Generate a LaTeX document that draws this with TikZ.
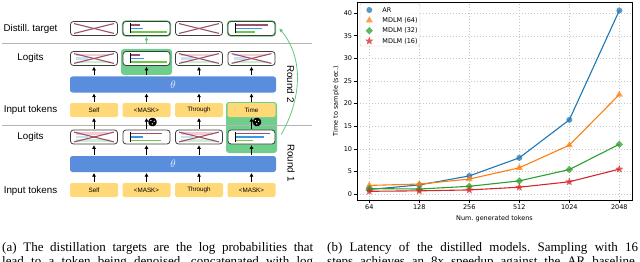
\documentclass[tikz,border=0pt]{standalone}
\usepackage{fontspec}
\setmainfont{Liberation Serif}
\setsansfont{Liberation Sans}
\newfontfamily\plotfont{DejaVu Sans}
\usetikzlibrary{arrows.meta,shapes.geometric,calc}
\frenchspacing

\definecolor{tokYellow}{RGB}{255,216,120}
\definecolor{thetaBlue}{RGB}{90,142,221}
\definecolor{pickGreen}{RGB}{112,206,140}
\definecolor{glowGreen}{RGB}{100,200,120}
\definecolor{boxGray}{RGB}{60,60,60}
\definecolor{crossRed}{RGB}{155,80,110}
\definecolor{barBlue}{RGB}{60,150,230}
\definecolor{barGreen}{RGB}{110,200,70}
\definecolor{fadePink}{RGB}{245,205,205}
\definecolor{fadeBlue}{RGB}{200,225,245}
\definecolor{fadeGreen}{RGB}{210,238,210}
\definecolor{sepGray}{RGB}{180,180,180}
\definecolor{arBlue}{RGB}{31,119,180}
\definecolor{mdOrange}{RGB}{255,127,14}
\definecolor{mdGreen}{RGB}{44,160,44}
\definecolor{mdRed}{RGB}{214,39,40}

% crossed out logits
\newcommand{\crossLogit}[1]{%
  \draw[crossline] ($(#1.north west)+(4,2.5)$) -- ($(#1.south east)+(-4,-2.5)$);
  \draw[crossline] ($(#1.south west)+(4,-2.5)$) -- ($(#1.north east)+(-4,2.5)$);}
% faint bars behind a cross
\newcommand{\fadeLogit}[1]{%
  \draw[line width=2.2pt, fadePink] ($(#1.west)+(6,-3.5)$) -- ++(32,0);
  \draw[line width=2.2pt, fadeBlue] ($(#1.west)+(6,0)$) -- ++(12,0);
  \draw[line width=2.2pt, fadeGreen] ($(#1.west)+(6,3.5)$) -- ++(34,0);}
% kept logits: red, blue, green bar lengths
\newcommand{\keepLogit}[4]{%
  \draw[line width=1.6pt, crossRed] ($(#1.west)+(8,-3.5)$) -- ++(#2,0);
  \draw[line width=1.6pt, barBlue] ($(#1.west)+(8,0)$) -- ++(#3,0);
  \draw[line width=1.6pt, barGreen] ($(#1.west)+(8,3.5)$) -- ++(#4,0);
  \draw[line width=1.1pt, black] ($(#1.west)+(8,-5)$) -- ++(0,10);}

\begin{document}
\begin{tikzpicture}[x=1pt, y=-1pt,
    rowlabel/.style={font=\sffamily\fontsize{9.8}{11}\selectfont},
    token/.style={fill=tokYellow, rounded corners=2pt, minimum width=48pt, minimum height=14pt, inner sep=0pt, font=\sffamily\fontsize{6.3}{7}\selectfont},
    logit/.style={draw=boxGray, line width=0.8pt, fill=white, rounded corners=3pt, minimum width=47pt, minimum height=14pt, inner sep=0pt},
    keep/.style={logit, preaction={draw=glowGreen, line width=2.4pt}},
    theta/.style={fill=thetaBlue, rounded corners=2.5pt, minimum width=206pt, minimum height=16pt, inner sep=0pt, text=white!85!thetaBlue, font=\fontsize{11}{12}\selectfont},
    pick/.style={fill=pickGreen, rounded corners=3pt, inner sep=0pt},
    crossline/.style={crossRed, line width=1.1pt},
    fwd/.style={-{Triangle[length=3.5pt,width=3.5pt]}, line width=0.9pt, shorten <=1pt, shorten >=1pt},
    pickarrow/.style={-{Triangle[length=3.5pt,width=3.5pt]}, glowGreen, line width=0.8pt},
    sepline/.style={sepGray, line width=0.8pt},
    die/.style={regular polygon, regular polygon sides=6, fill=black, minimum size=9.5pt, inner sep=0pt, rounded corners=1.2pt},
    roundlabel/.style={rotate=-90, font=\sffamily\fontsize{9.8}{11}\selectfont},
    caption/.style={inner sep=0pt, anchor=base west, font=\fontsize{13}{15}\selectfont},
    ticklabel/.style={inner sep=0.5pt, font=\plotfont\fontsize{6.5}{7.5}\selectfont},
    gridline/.style={black!22, line width=0.4pt, dash pattern=on 1.5pt off 1.5pt},
    frame/.style={black, line width=0.6pt},
    series/.style={line width=1.1pt},
    markAR/.style={circle, inner sep=0pt, minimum size=6pt, fill opacity=0.75},
    markTri/.style={regular polygon, regular polygon sides=3, inner sep=0pt, minimum size=8pt, fill opacity=0.75},
    markDia/.style={diamond, inner sep=0pt, minimum size=7.5pt, fill opacity=0.75},
    markStar/.style={star, star points=5, star point ratio=2.3, inner sep=0pt, minimum size=8.5pt, fill opacity=0.75},
    legendbox/.style={draw=black!20, fill=white, fill opacity=0.8, rounded corners=1.5pt, inner sep=0pt}]

  \useasboundingbox (0,0) rectangle (640,262);
  \clip (0,0) rectangle (640,262);

  % Column centres
  \def\colX{94}
  \def\colStep{52.5}

  % Picked tokens
  \node[pick, minimum width=51pt, minimum height=26pt] (pickTwo) at (146.5,62) {};
  \node[pick, minimum width=51pt, minimum height=51pt] (pickOne) at (251.5,127.5) {};

  % Separators
  \draw[sepline] (2,43) -- (312,43);
  \draw[sepline] (2,125) -- (312,125);

  % Row labels
  \node[rowlabel] (labDist) at (30.5,28.5) {Distill. target};
  \node[rowlabel] (labLogTwo) at (30.5,58) {Logits};
  \node[rowlabel] (labInTwo) at (30.5,110) {Input tokens};
  \node[rowlabel] (labLogOne) at (30.5,137) {Logits};
  \node[rowlabel] (labInOne) at (30.5,190.5) {Input tokens};

  % Distillation targets
  \foreach \c/\kind in {1/logit,2/keep,3/logit,4/keep}{
      \pgfmathsetmacro{\x}{\colX+\colStep*(\c-1)}
      \node[\kind] (D\c) at (\x,28.5) {};
    }
  \crossLogit{D1}
  \crossLogit{D3}
  \keepLogit{D2}{9}{12}{36}
  \keepLogit{D4}{32}{26}{19}

  % Round 2
  \foreach \c/\word in {1/Self,2/{<MASK>},3/Through,4/Time}{
      \pgfmathsetmacro{\x}{\colX+\colStep*(\c-1)}
      \node[logit] (L2\c) at (\x,58.5) {};
      \node[token] (I2\c) at (\x,110) {\word};
    }
  \node[theta] (thTwo) at (173,84.5) {$\theta$};
  \foreach \c in {1,3,4}{
      \fadeLogit{L2\c}
      \crossLogit{L2\c}
    }
  \keepLogit{L22}{9}{13}{36}

  % Round 1
  \foreach \c/\word in {1/Self,2/{<MASK>},3/Through,4/{<MASK>}}{
      \pgfmathsetmacro{\x}{\colX+\colStep*(\c-1)}
      \node[logit] (L1\c) at (\x,137) {};
      \node[token] (I1\c) at (\x,190) {\word};
    }
  \node[theta] (thOne) at (173,164) {$\theta$};
  \foreach \c in {1,3}{
      \fadeLogit{L1\c}
      \crossLogit{L1\c}
    }
  \keepLogit{L12}{31}{12}{30}
  \keepLogit{L14}{34}{28}{17}

  % Forward arrows
  \foreach \c in {1,...,4}{
      \draw[fwd] (thTwo.north -| L2\c.south) -- (L2\c.south);
      \draw[fwd] (I2\c.north) -- (I2\c.north |- thTwo.south);
      \draw[fwd] (L1\c.north) -- (I2\c.south);
      \draw[fwd] (thOne.north -| L1\c.south) -- (L1\c.south);
      \draw[fwd] (I1\c.north) -- (I1\c.north |- thOne.south);
    }

  % Sampling dice
  \node[die] (dieTwo) at (152.5,122) {};
  \node[die] (dieFour) at (257,122) {};
  \foreach \d in {dieTwo,dieFour}{
      \fill[white] ($(\d)+(-1.6,-1.4)$) circle[radius=0.7pt];
      \fill[white] ($(\d)+(1.7,-0.7)$) circle[radius=0.7pt];
      \fill[white] ($(\d)+(-0.2,1.8)$) circle[radius=0.7pt];
    }

  % Distillation arrows
  \draw[pickarrow, shorten <=7.5pt, shorten >=1pt] (L22.north) -- (D2.south);
  \draw[pickarrow] ([xshift=4pt,yshift=-7pt]pickOne.east) .. controls +(20,-35) and +(25,30) .. ([xshift=4pt]D4.east);

  % Rounds
  \node[roundlabel] (roundTwo) at (290.5,84) {Round 2};
  \node[roundlabel] (roundOne) at (291,163) {Round 1};

  % Latency plot
  \begin{scope}[shift={(369.3,194)}, x=50pt, y=4.52pt]
    \foreach \k in {0,...,5}
    \draw[gridline] (\k,-1.33) -- (\k,42.48);
    \foreach \v in {0,5,...,40}
    \draw[gridline] (-0.25,\v) -- (5.25,\v);
    \draw[frame] (-0.25,-1.33) rectangle (5.25,42.48);
    \foreach \k/\n in {0/64,1/128,2/256,3/512,4/1024,5/2048}{
        \draw[frame] (\k,-1.33) -- ++(0pt,-3pt);
        \node[ticklabel, anchor=north, yshift=-3.5pt] (xt\k) at (\k,-1.33) {\n};
      }
    \foreach \v in {0,5,...,40}{
        \draw[frame] (-0.25,\v) -- ++(-3pt,0pt);
        \node[ticklabel, anchor=east, xshift=-4pt] (yt\v) at (-0.25,\v) {\v};
      }
    \foreach \s/\col/\mk/\data in {ar/arBlue/markAR/{1.0,2.0,4.0,8.0,16.4,40.6},
        mA/mdOrange/markTri/{1.9,2.2,3.3,5.8,10.8,22.0},
        mB/mdGreen/markDia/{1.2,1.1,1.7,2.9,5.4,11.0},
        mC/mdRed/markStar/{0.6,0.7,0.9,1.5,2.7,5.5}}{
        \foreach \v [count=\k from 0] in \data {
            \coordinate (\s\k) at (\k,\v);
          }
        \draw[series, \col] (\s0) -- (\s1) -- (\s2) -- (\s3) -- (\s4) -- (\s5);
        \foreach \k in {0,...,5}
        \node[\mk, fill=\col] (mk\s\k) at (\s\k) {};
      }
  \end{scope}

  % Legend
  \node[legendbox, minimum width=60pt, minimum height=42.5pt] (legend) at (390,24.75) {};
  \foreach \i/\col/\mk/\txt in {0/arBlue/markAR/AR,1/mdOrange/markTri/MDLM (64),2/mdGreen/markDia/MDLM (32),3/mdRed/markStar/MDLM (16)}{
      \pgfmathsetmacro{\ly}{10+10.35*\i}
      \node[\mk, fill=\col] (key\i) at (369.3,\ly) {};
      \node[ticklabel, anchor=west] (keyText\i) at (381.7,\ly) {\txt};
    }

  % Axis labels
  \node[ticklabel, rotate=90] (yLabel) at (336,101) {Time to sample (sec.)};
  \node[ticklabel] (xLabel) at (494.5,218.5) {Num. generated tokens};

  % Captions
  \node[caption] (capA) at (2,251) {\makebox[311pt][s]{(a) The distillation targets are the log probabilities that}};
  \node[caption] (capAnext) at (2,265) {\makebox[311pt][s]{lead to a token being denoised, concatenated with log}};
  \node[caption] (capB) at (327,251) {\makebox[311pt][s]{(b) Latency of the distilled models. Sampling with 16}};
  \node[caption] (capBnext) at (327,265) {\makebox[311pt][s]{steps achieves an 8x speedup against the AR baseline.}};
\end{tikzpicture}
\end{document}
